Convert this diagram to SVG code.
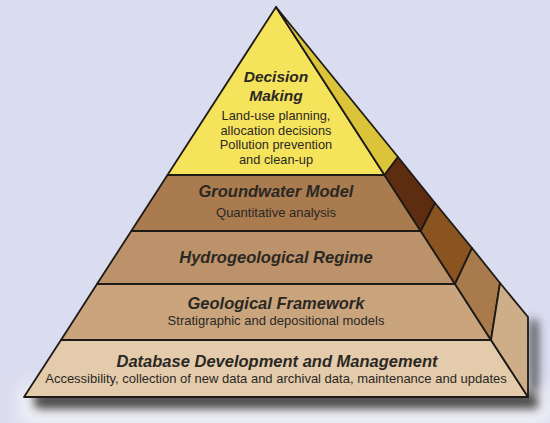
<svg xmlns="http://www.w3.org/2000/svg" width="550" height="423" viewBox="0 0 550 423">
  <defs>
    <filter id="blur" x="-20%" y="-50%" width="140%" height="200%">
      <feGaussianBlur stdDeviation="5"/>
    </filter>
    <filter id="glow" x="-20%" y="-50%" width="140%" height="200%">
      <feGaussianBlur stdDeviation="10"/>
    </filter>
    <style>
      .edge { stroke: #1e1a16; stroke-width: 1.8; stroke-linejoin: round; }
      .title { font-family: "Liberation Sans", Arial, sans-serif; font-weight: bold; font-style: italic; font-size: 16.5px; fill: #2b2824; text-anchor: middle; }
      .dm { font-size: 15.5px; }
      .sub { font-family: "Liberation Sans", Arial, sans-serif; font-size: 13px; fill: #2b2824; text-anchor: middle; }
      .dms { font-size: 12.8px; }
    </style>
  </defs>

  <rect x="0" y="0" width="550" height="423" fill="#dadcef"/>
  <rect x="20" y="385" width="530" height="40" fill="#f4f4f8" filter="url(#glow)"/>

  <!-- shadow -->
  <g id="shadow" filter="url(#blur)" opacity="0.85">
    <polygon points="34,392 538,392 538,322 530,318 530,404 34,408" fill="#2e2e2e"/>
    <rect x="40" y="395" width="498" height="14" fill="#2e2e2e"/>
  </g>

  <g id="decision-making">
    <polygon class="edge" points="276,7 384.5,175 167.5,175" fill="#f6e35c"/>
    <polygon class="edge" points="276,7 398,157 384.5,175" fill="#dcc43a"/>
    <text class="title dm" x="276" y="82">Decision</text>
    <text class="title dm" x="276" y="101">Making</text>
    <text class="sub dms" x="276" y="120">Land-use planning,</text>
    <text class="sub dms" x="276" y="134.5">allocation decisions</text>
    <text class="sub dms" x="276" y="149">Pollution prevention</text>
    <text class="sub dms" x="276" y="163.5">and clean-up</text>
  </g>

  <g id="groundwater-model">
    <polygon class="edge" points="167.5,175 384.5,175 420.7,231 131.3,231" fill="#a97b4f"/>
    <polygon class="edge" points="384.5,175 398,157 435,203 420.7,231" fill="#5e2c10"/>
    <text class="title" x="276" y="197">Groundwater Model</text>
    <text class="sub" x="276" y="217">Quantitative analysis</text>
  </g>

  <g id="hydrogeological-regime">
    <polygon class="edge" points="131.3,231 420.7,231 455,284 97,284" fill="#bb9269"/>
    <polygon class="edge" points="420.7,231 435,203 472,248 455,284" fill="#89541f"/>
    <text class="title" x="276" y="263">Hydrogeological Regime</text>
  </g>

  <g id="geological-framework">
    <polygon class="edge" points="97,284 455,284 491,340 61,340" fill="#c9a47c"/>
    <polygon class="edge" points="455,284 472,248 500,283 491,340" fill="#a97a4c"/>
    <text class="title" x="276" y="309">Geological Framework</text>
    <text class="sub" x="276" y="325">Stratigraphic and depositional models</text>
  </g>

  <g id="database">
    <polygon class="edge" points="61,340 491,340 528,397 24,397" fill="#e3cbab"/>
    <polygon class="edge" points="491,340 500,283 528,317 528,397" fill="#cdae88"/>
    <text class="title" x="277" y="367">Database Development and Management</text>
    <text class="sub" x="276" y="383">Accessibility, collection of new data and archival data, maintenance and updates</text>
  </g>
</svg>
